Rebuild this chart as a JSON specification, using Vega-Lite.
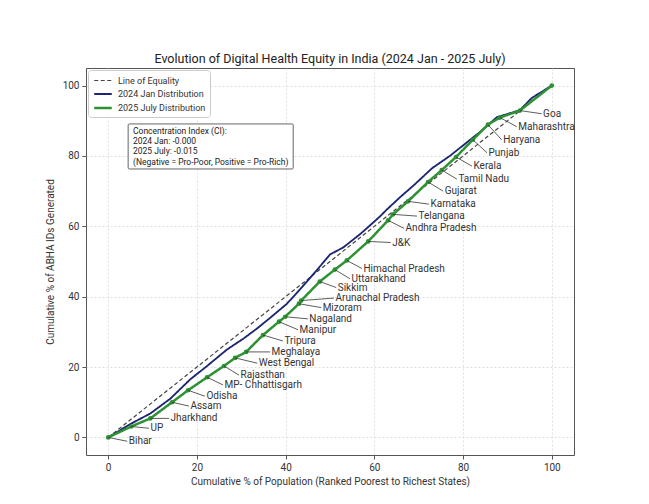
{
  "$schema": "https://vega.github.io/schema/vega-lite/v6.json",
  "width": 488,
  "height": 387,
  "autosize": "none",
  "padding": {"left": 86, "top": 68, "right": 75, "bottom": 49},
  "background": "white",
  "title": {"text": "Evolution of Digital Health Equity in India (2024 Jan - 2025 July)", "fontSize": 12.5, "fontWeight": "normal", "color": "#222", "offset": 3, "anchor": "middle", "font": "Roboto"},
  "config": {
    "font": "Roboto",
    "view": {"stroke": "#555", "strokeWidth": 1},
    "axis": {"domain": false, "grid": true, "gridColor": "#d8d8d8", "gridDash": [2, 2], "gridWidth": 0.8, "tickColor": "#555", "tickSize": 4, "labelFontSize": 10, "labelColor": "#333", "titleFontSize": 10, "titleColor": "#333", "titleFontWeight": "normal", "labelPadding": 3},
    "legend": {"labelFontSize": 9, "labelColor": "#333", "symbolType": "M-1.6,0H1.6", "symbolSize": 120, "rowPadding": 1.5, "padding": 4, "strokeColor": "#ccc", "fillColor": "white", "cornerRadius": 3, "orient": "top-left", "offset": 2, "labelOffset": 8, "symbolOffset": 4}
  },
  "datasets": {
    "lines": [
      {"series": "Line of Equality", "x": 0, "y": 0},
      {"series": "Line of Equality", "x": 100, "y": 100},
      {"series": "2024 Jan Distribution", "x": 0, "y": 0},
      {"series": "2024 Jan Distribution", "x": 5, "y": 3.8},
      {"series": "2024 Jan Distribution", "x": 9.5, "y": 6.8},
      {"series": "2024 Jan Distribution", "x": 14, "y": 11},
      {"series": "2024 Jan Distribution", "x": 18.5, "y": 16.5},
      {"series": "2024 Jan Distribution", "x": 22, "y": 20},
      {"series": "2024 Jan Distribution", "x": 26.8, "y": 25},
      {"series": "2024 Jan Distribution", "x": 30.4, "y": 28},
      {"series": "2024 Jan Distribution", "x": 33.6, "y": 31},
      {"series": "2024 Jan Distribution", "x": 37, "y": 34.5},
      {"series": "2024 Jan Distribution", "x": 40.3, "y": 38},
      {"series": "2024 Jan Distribution", "x": 43.9, "y": 43},
      {"series": "2024 Jan Distribution", "x": 47, "y": 47.5},
      {"series": "2024 Jan Distribution", "x": 50, "y": 52},
      {"series": "2024 Jan Distribution", "x": 53, "y": 54},
      {"series": "2024 Jan Distribution", "x": 57, "y": 58},
      {"series": "2024 Jan Distribution", "x": 61, "y": 62.5},
      {"series": "2024 Jan Distribution", "x": 63, "y": 65},
      {"series": "2024 Jan Distribution", "x": 66, "y": 68.5},
      {"series": "2024 Jan Distribution", "x": 69, "y": 71.8},
      {"series": "2024 Jan Distribution", "x": 73, "y": 76.5},
      {"series": "2024 Jan Distribution", "x": 77, "y": 80},
      {"series": "2024 Jan Distribution", "x": 80, "y": 83},
      {"series": "2024 Jan Distribution", "x": 84, "y": 87},
      {"series": "2024 Jan Distribution", "x": 87.6, "y": 91},
      {"series": "2024 Jan Distribution", "x": 92.8, "y": 93},
      {"series": "2024 Jan Distribution", "x": 95.5, "y": 96.5},
      {"series": "2024 Jan Distribution", "x": 100, "y": 100},
      {"series": "2025 July Distribution", "x": 0, "y": 0},
      {"series": "2025 July Distribution", "x": 5.2, "y": 3.1},
      {"series": "2025 July Distribution", "x": 9.5, "y": 5.4},
      {"series": "2025 July Distribution", "x": 14.4, "y": 10.0},
      {"series": "2025 July Distribution", "x": 18.0, "y": 13.4},
      {"series": "2025 July Distribution", "x": 22.3, "y": 17.1},
      {"series": "2025 July Distribution", "x": 26.1, "y": 20.3},
      {"series": "2025 July Distribution", "x": 28.6, "y": 22.6},
      {"series": "2025 July Distribution", "x": 31.1, "y": 24.3},
      {"series": "2025 July Distribution", "x": 34.9, "y": 29.1},
      {"series": "2025 July Distribution", "x": 38.5, "y": 32.9},
      {"series": "2025 July Distribution", "x": 39.9, "y": 34.3},
      {"series": "2025 July Distribution", "x": 43.0, "y": 38.0},
      {"series": "2025 July Distribution", "x": 43.5, "y": 38.9},
      {"series": "2025 July Distribution", "x": 47.7, "y": 44.3},
      {"series": "2025 July Distribution", "x": 51.1, "y": 47.7},
      {"series": "2025 July Distribution", "x": 53.8, "y": 50.3},
      {"series": "2025 July Distribution", "x": 58.6, "y": 55.7},
      {"series": "2025 July Distribution", "x": 63.1, "y": 61.7},
      {"series": "2025 July Distribution", "x": 64.2, "y": 63.4},
      {"series": "2025 July Distribution", "x": 67.6, "y": 67.1},
      {"series": "2025 July Distribution", "x": 72.1, "y": 72.6},
      {"series": "2025 July Distribution", "x": 75.2, "y": 76.0},
      {"series": "2025 July Distribution", "x": 78.4, "y": 79.7},
      {"series": "2025 July Distribution", "x": 82.2, "y": 84.6},
      {"series": "2025 July Distribution", "x": 85.6, "y": 88.9},
      {"series": "2025 July Distribution", "x": 88.3, "y": 90.9},
      {"series": "2025 July Distribution", "x": 92.8, "y": 92.9},
      {"series": "2025 July Distribution", "x": 100, "y": 100}
    ],
    "labels": [
      {"state": "Bihar", "x": 0, "y": 0, "lx": 4.3, "ly": -1.1},
      {"state": "UP", "x": 5.2, "y": 3.1, "lx": 9.2, "ly": 2.6},
      {"state": "Jharkhand", "x": 9.5, "y": 5.4, "lx": 13.7, "ly": 5.4},
      {"state": "Assam", "x": 14.4, "y": 10.0, "lx": 18.2, "ly": 8.9},
      {"state": "Odisha", "x": 18.0, "y": 13.4, "lx": 21.8, "ly": 11.7},
      {"state": "MP- Chhattisgarh", "x": 22.3, "y": 17.1, "lx": 25.9, "ly": 14.9},
      {"state": "Rajasthan", "x": 26.1, "y": 20.3, "lx": 29.5, "ly": 17.7},
      {"state": "West Bengal", "x": 28.6, "y": 22.6, "lx": 33.6, "ly": 21.1},
      {"state": "Meghalaya", "x": 31.1, "y": 24.3, "lx": 36.5, "ly": 24.3},
      {"state": "Tripura", "x": 34.9, "y": 29.1, "lx": 39.4, "ly": 27.4},
      {"state": "Manipur", "x": 38.5, "y": 32.9, "lx": 42.8, "ly": 30.6},
      {"state": "Nagaland", "x": 39.9, "y": 34.3, "lx": 45.0, "ly": 33.7},
      {"state": "Mizoram", "x": 43.0, "y": 38.0, "lx": 48.0, "ly": 36.9},
      {"state": "Arunachal Pradesh", "x": 43.5, "y": 38.9, "lx": 50.9, "ly": 39.6},
      {"state": "Sikkim", "x": 47.7, "y": 44.3, "lx": 51.4, "ly": 42.6},
      {"state": "Uttarakhand", "x": 51.1, "y": 47.7, "lx": 54.5, "ly": 45.1},
      {"state": "Himachal Pradesh", "x": 53.8, "y": 50.3, "lx": 57.2, "ly": 48.0},
      {"state": "J&K", "x": 58.6, "y": 55.7, "lx": 63.7, "ly": 55.4},
      {"state": "Andhra Pradesh", "x": 63.1, "y": 61.7, "lx": 66.7, "ly": 59.4},
      {"state": "Telangana", "x": 64.2, "y": 63.4, "lx": 69.6, "ly": 62.9},
      {"state": "Karnataka", "x": 67.6, "y": 67.1, "lx": 72.3, "ly": 66.3},
      {"state": "Gujarat", "x": 72.1, "y": 72.6, "lx": 75.5, "ly": 70.0},
      {"state": "Tamil Nadu", "x": 75.2, "y": 76.0, "lx": 78.6, "ly": 73.4},
      {"state": "Kerala", "x": 78.4, "y": 79.7, "lx": 82.0, "ly": 77.1},
      {"state": "Punjab", "x": 82.2, "y": 84.6, "lx": 85.4, "ly": 80.9},
      {"state": "Haryana", "x": 85.6, "y": 88.9, "lx": 88.7, "ly": 84.6},
      {"state": "Maharashtra", "x": 88.3, "y": 90.9, "lx": 92.1, "ly": 88.3},
      {"state": "Goa", "x": 92.8, "y": 92.9, "lx": 97.7, "ly": 92.0}
    ],
    "ci": [
      {"x1": 4.5, "x2": 41.7, "y1": 89.1, "y2": 76.3, "tx": 5.6, "ty": 88.3, "lines": ["Concentration Index (CI):", "2024 Jan: -0.000", "2025 July: -0.015", "(Negative = Pro-Poor, Positive = Pro-Rich)"]}
    ]
  },
  "layer": [
    {
      "data": {"name": "lines"},
      "mark": {"type": "line", "strokeCap": "butt"},
      "encoding": {
        "x": {"field": "x", "type": "quantitative", "scale": {"domain": [-5, 105], "nice": false, "zero": false}, "axis": {"values": [0, 20, 40, 60, 80, 100], "title": "Cumulative % of Population (Ranked Poorest to Richest States)", "titlePadding": 4}},
        "y": {"field": "y", "type": "quantitative", "scale": {"domain": [-5, 105], "nice": false, "zero": false}, "axis": {"values": [0, 20, 40, 60, 80, 100], "title": "Cumulative % of ABHA IDs Generated", "titlePadding": 7}},
        "color": {"field": "series", "type": "nominal", "title": null, "scale": {"domain": ["Line of Equality", "2024 Jan Distribution", "2025 July Distribution"], "range": ["#444444", "#1c2670", "#2e9234"]}},
        "strokeDash": {"field": "series", "type": "nominal", "title": null, "scale": {"domain": ["Line of Equality", "2024 Jan Distribution", "2025 July Distribution"], "range": [[4, 2.5], [1, 0], [1, 0]]}},
        "strokeWidth": {"field": "series", "type": "nominal", "title": null, "scale": {"domain": ["Line of Equality", "2024 Jan Distribution", "2025 July Distribution"], "range": [1.2, 2.5, 2.5]}},
        "order": {"field": "x", "type": "quantitative"}
      }
    },
    {
      "data": {"name": "lines"},
      "transform": [{"filter": "datum.series == '2025 July Distribution'"}],
      "mark": {"type": "circle", "size": 22, "color": "#2e9234", "opacity": 1},
      "encoding": {
        "x": {"field": "x", "type": "quantitative"},
        "y": {"field": "y", "type": "quantitative"}
      }
    },
    {
      "data": {"name": "labels"},
      "mark": {"type": "rule", "color": "#333", "strokeWidth": 0.8},
      "encoding": {
        "x": {"field": "x", "type": "quantitative"},
        "y": {"field": "y", "type": "quantitative"},
        "x2": {"field": "lx"},
        "y2": {"field": "ly"}
      }
    },
    {
      "data": {"name": "labels"},
      "mark": {"type": "text", "align": "left", "baseline": "middle", "dx": 1.5, "fontSize": 10, "color": "#333"},
      "encoding": {
        "x": {"field": "lx", "type": "quantitative"},
        "y": {"field": "ly", "type": "quantitative"},
        "text": {"field": "state"}
      }
    },
    {
      "data": {"name": "ci"},
      "mark": {"type": "rect", "fill": "white", "stroke": "#666", "strokeWidth": 1, "cornerRadius": 1},
      "encoding": {
        "x": {"field": "x1", "type": "quantitative"},
        "x2": {"field": "x2"},
        "y": {"field": "y1", "type": "quantitative"},
        "y2": {"field": "y2"}
      }
    },
    {
      "data": {"name": "ci"},
      "mark": {"type": "text", "align": "left", "baseline": "top", "fontSize": 8.5, "lineHeight": 10.3, "color": "#222"},
      "encoding": {
        "x": {"field": "tx", "type": "quantitative"},
        "y": {"field": "ty", "type": "quantitative"},
        "text": {"field": "lines"}
      }
    }
  ]
}
